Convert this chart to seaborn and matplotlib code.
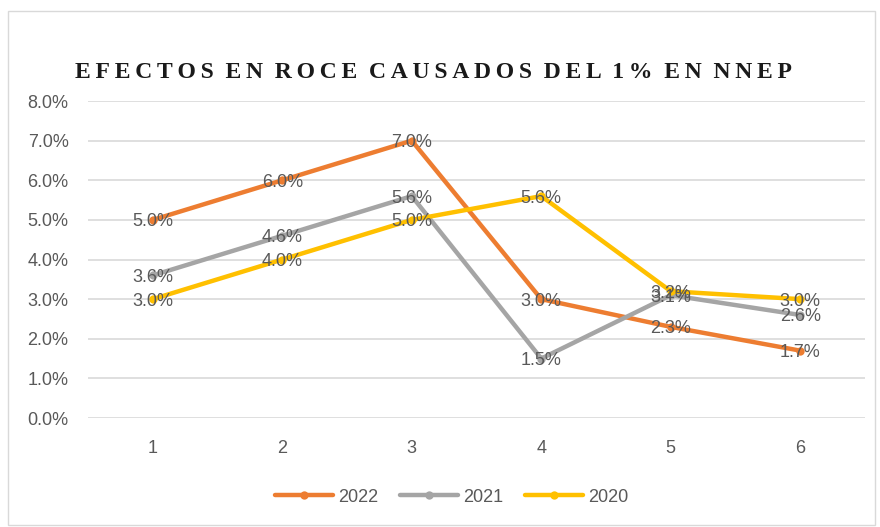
import matplotlib
matplotlib.use("Agg")
import matplotlib.pyplot as plt
import matplotlib.patches as mpatches
import seaborn as sns
import pandas as pd

# datos
periodos = [1, 2, 3, 4, 5, 6]
serie_2022 = [5.0, 6.0, 7.0, 3.0, 2.3, 1.7]
serie_2021 = [3.6, 4.6, 5.6, 1.5, 3.1, 2.6]
serie_2020 = [3.0, 4.0, 5.0, 5.6, 3.2, 3.0]
anios = ["2022", "2021", "2020"]
colores = ["#ED7D31", "#A5A5A5", "#FFC000"]
y_ticks = [0, 1, 2, 3, 4, 5, 6, 7, 8]
titulo = "EFECTOS EN ROCE CAUSADOS DEL 1% EN NNEP"

df = pd.DataFrame({
    "periodo": periodos * 3,
    "valor": serie_2022 + serie_2021 + serie_2020,
    "anio": ["2022"] * 6 + ["2021"] * 6 + ["2020"] * 6,
})

sns.set_theme(style="white")
plt.rcParams["font.family"] = ["Liberation Sans", "DejaVu Sans"]
gris_texto = "#595959"

fig = plt.figure(figsize=(8.8, 5.27), dpi=100)
ax = fig.add_axes([0.1, 0.2068, 0.883, 0.6015])

# posiciones categóricas
df["x"] = df["periodo"].map({p: i for i, p in enumerate(periodos)})

sns.lineplot(data=df, x="x", y="valor", hue="anio", hue_order=anios,
             palette=colores, linewidth=3.2, marker="o", markersize=6,
             markeredgewidth=0, ax=ax)

# etiquetas de datos centradas en cada punto
for _, fila in df.iterrows():
    ax.text(fila["x"], fila["valor"] - 0.05, f"{fila['valor']:.1f}%", ha="center",
            va="center", fontsize=13, color=gris_texto)

ax.set_xlim(-0.5, len(periodos) - 0.5)
ax.set_ylim(0, 8)
ax.set_yticks(y_ticks)
ax.set_yticklabels([f"{v:.1f}%" for v in y_ticks])
ax.set_xticks(range(len(periodos)))
ax.set_xticklabels([str(p) for p in periodos])
ax.tick_params(axis="y", labelsize=13, labelcolor=gris_texto, length=0, pad=14)
ax.tick_params(axis="x", labelsize=13, labelcolor=gris_texto, length=0, pad=16)
ax.set_xlabel("")
ax.set_ylabel("")
ax.grid(axis="y", color="#D9D9D9", linewidth=1.2)
ax.set_axisbelow(True)
for s in ax.spines.values():
    s.set_visible(False)

# título con espaciado entre letras
titulo_espaciado = "  ".join("\u2009".join(palabra) for palabra in titulo.split(" "))
fig.text(0.492, 0.862, titulo_espaciado, ha="center", va="center",
         fontsize=17, fontweight="bold", family=["Liberation Serif", "DejaVu Serif"],
         color="#1a1a1a")

# leyenda inferior
handles, labels = ax.get_legend_handles_labels()
ax.legend(handles, labels, loc="center", bbox_to_anchor=(0.468, -0.25),
          ncol=3, frameon=False, fontsize=13, labelcolor=gris_texto,
          handlelength=3.2, columnspacing=1.2, handletextpad=0.3)

# borde del gráfico
fig.patches.append(mpatches.Rectangle((0.009, 0.004), 0.985, 0.975,
                                      transform=fig.transFigure, fill=False,
                                      edgecolor="#D9D9D9", linewidth=1))

fig.savefig("out.png", dpi=100)
